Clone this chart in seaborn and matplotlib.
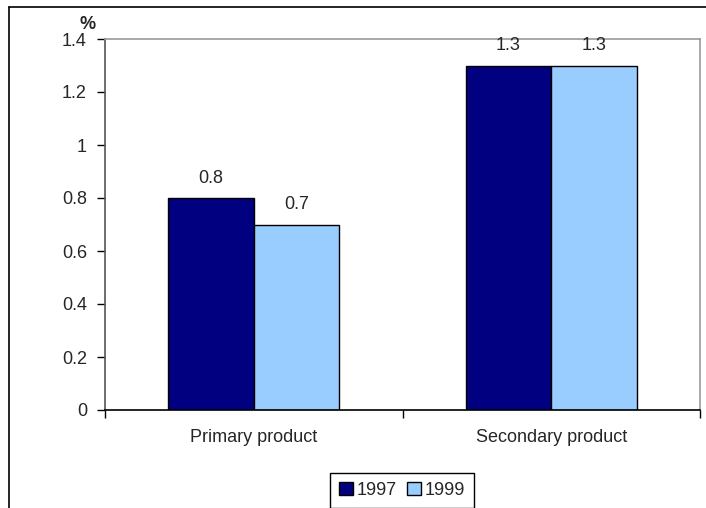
import matplotlib
matplotlib.use("Agg")
import matplotlib.pyplot as plt
from matplotlib.lines import Line2D
from matplotlib.ticker import FixedLocator, FuncFormatter
import seaborn as sns
import pandas as pd

categories = ["Primary product", "Secondary product"]
years = ["1997", "1999"]
values_1997 = [0.8, 1.3]
values_1999 = [0.7, 1.3]
y_ticks = [0, 0.2, 0.4, 0.6, 0.8, 1.0, 1.2, 1.4]

df = pd.DataFrame({
    "category": categories * 2,
    "year": [years[0]] * 2 + [years[1]] * 2,
    "value": values_1997 + values_1999,
})

sns.set_style("white")
plt.rcParams["font.family"] = ["Liberation Sans", "DejaVu Sans"]
FS = 13
plt.rcParams["font.size"] = FS

W, H = 706, 508
fig = plt.figure(figsize=(W / 100, H / 100), dpi=100)
ax = fig.add_axes([105 / W, 1 - 410 / H, (700 - 105) / W, (410 - 39) / H])

palette = {"1997": "#000080", "1999": "#99CCFF"}
sns.barplot(data=df, x="category", y="value", hue="year", order=categories,
            hue_order=years, palette=palette, width=0.575, gap=0,
            edgecolor="black", linewidth=1, saturation=1, ax=ax, legend=True)

for cont in ax.containers:
    ax.bar_label(cont, fmt="%.1f", padding=8, fontsize=FS)

ax.set_xlim(-0.5, 1.5)
ax.set_ylim(0, 1.4)
ax.set_yticks(y_ticks)
ax.yaxis.set_major_formatter(FuncFormatter(lambda v, p: f"{v:g}"))
ax.tick_params(axis="y", direction="out", length=6, width=1, color="black",
               left=True, pad=7, labelsize=FS)
ax.tick_params(axis="x", which="major", length=0, pad=14, labelsize=FS)
ax.xaxis.set_minor_locator(FixedLocator([-0.5, 0.5, 1.5]))
ax.tick_params(axis="x", which="minor", direction="out", length=6, width=1,
               color="black", bottom=True)
ax.set_xlabel("")
ax.set_ylabel("")

for side in ["top", "right"]:
    ax.spines[side].set_color("#999999")
    ax.spines[side].set_linewidth(1.2)
ax.spines["left"].set_color("#555555")
ax.spines["left"].set_linewidth(1.2)
ax.spines["bottom"].set_color("black")
ax.spines["bottom"].set_linewidth(1.2)

# unit marker above the value axis
ax.text(-0.029, 1.016, "%", transform=ax.transAxes, ha="center", va="bottom",
        fontsize=FS, fontweight="bold")

# legend below the plot area
handles, labels = ax.get_legend_handles_labels()
ax.legend_.remove()
fig.legend(handles, labels, loc="upper center", bbox_to_anchor=(402 / W, 1 - 473 / H),
           ncol=2, frameon=True, fancybox=False, edgecolor="black",
           handlelength=0.75, handleheight=0.75, handletextpad=0.2,
           columnspacing=0.6, borderpad=0.5, fontsize=FS, framealpha=1,
           borderaxespad=0)
fig.legends[0].get_frame().set_linewidth(1.0)

# chart area border
fig.add_artist(Line2D([9 / W, 1.0], [1 - 7 / H, 1 - 7 / H], color="black", lw=1.2,
                      transform=fig.transFigure))
fig.add_artist(Line2D([9 / W, 9 / W], [0.0, 1 - 7 / H], color="black", lw=1.2,
                      transform=fig.transFigure))

fig.savefig("out.png", dpi=100)
